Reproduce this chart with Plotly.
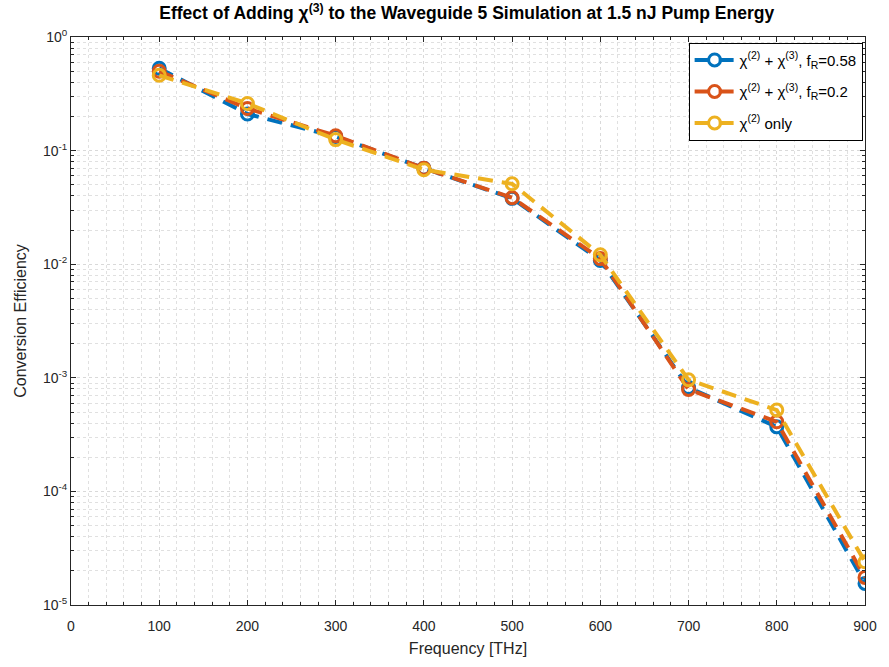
import plotly.graph_objects as go

freq = [100, 200, 300, 400, 500, 600, 700, 800, 900]
eff_fr058 = [0.53, 0.21, 0.133, 0.070, 0.038, 0.0108, 0.00082, 0.00037, 1.55e-5]
eff_fr02 = [0.50, 0.235, 0.135, 0.070, 0.0385, 0.0112, 0.00079, 0.00041, 1.75e-5]
eff_chi2 = [0.46, 0.26, 0.125, 0.068, 0.051, 0.0121, 0.00096, 0.00052, 2.4e-5]
names = ["χ<sup>(2)</sup> + χ<sup>(3)</sup>, f<sub>R</sub>=0.58",
         "χ<sup>(2)</sup> + χ<sup>(3)</sup>, f<sub>R</sub>=0.2",
         "χ<sup>(2)</sup> only"]
colors = ["#0072BD", "#D95319", "#EDB120"]
ytick_vals = [1e-5, 1e-4, 1e-3, 1e-2, 1e-1, 1]
ytick_text = ["10<sup>-5</sup>", "10<sup>-4</sup>", "10<sup>-3</sup>", "10<sup>-2</sup>", "10<sup>-1</sup>", "10<sup>0</sup>"]
minor_y = [m * 10.0 ** e for e in range(-5, 0) for m in range(2, 10)]

fig = go.Figure()
for i, (ys, nm, c) in enumerate(zip([eff_fr058, eff_fr02, eff_chi2], names, colors)):
    fig.add_trace(go.Scatter(
        x=freq, y=ys, name=nm, mode="lines+markers", legendgroup=f"g{i}",
        line=dict(color=c, width=4, dash="15px,9px"),
        marker=dict(symbol="circle-open", size=12, color=c, line=dict(width=3, color=c)),
    ))

font = "Liberation Sans, Arial, sans-serif"
fig.update_layout(
    width=889, height=667,
    margin=dict(l=71, r=17, t=37, b=61),
    paper_bgcolor="white", plot_bgcolor="white",
    font=dict(family=font, size=14, color="#262626"),
    title=dict(text="<b>Effect of Adding χ<sup>(3)</sup> to the Waveguide 5 Simulation at 1.5 nJ Pump Energy</b>",
               x=0.525, xanchor="center", y=0.99, yanchor="top", font=dict(size=17.5, color="black")),
    legend=dict(x=0.997, xanchor="right", y=0.99, yanchor="top",
                bgcolor="white", bordercolor="black", borderwidth=1,
                tracegroupgap=9, itemwidth=40,
                font=dict(size=15, color="black")),
    showlegend=True,
)
fig.update_xaxes(
    range=[0, 900], tickvals=list(range(0, 1000, 100)),
    title=dict(text="Frequency [THz]", font=dict(size=16, color="#262626"), standoff=10),
    showline=True, linecolor="#262626", linewidth=1, mirror="ticks",
    ticks="inside", ticklen=5, tickcolor="#262626", ticklabelstandoff=8,
    showgrid=True, gridcolor="#d9d9d9", griddash="dot", gridwidth=1,
    zeroline=False,
    minor=dict(dtick=20, showgrid=True, gridcolor="#e0e0e0", griddash="dot", ticks="inside", ticklen=3, tickcolor="#262626"),
    tickfont=dict(size=14, color="#262626"),
)
fig.update_yaxes(
    type="log", range=[-5, 0], tickvals=ytick_vals, ticktext=ytick_text,
    title=dict(text="Conversion Efficiency", font=dict(size=16, color="#262626"), standoff=12),
    showline=True, linecolor="#262626", linewidth=1, mirror="ticks",
    ticks="inside", ticklen=5, tickcolor="#262626",
    showgrid=True, gridcolor="#d9d9d9", griddash="dot", gridwidth=1,
    zeroline=False,
    minor=dict(tickvals=minor_y, showgrid=True, gridcolor="#e0e0e0", griddash="dot", ticks="inside", ticklen=3, tickcolor="#262626"),
    tickfont=dict(size=14, color="#262626"),
)
fig.write_html("out.html")
